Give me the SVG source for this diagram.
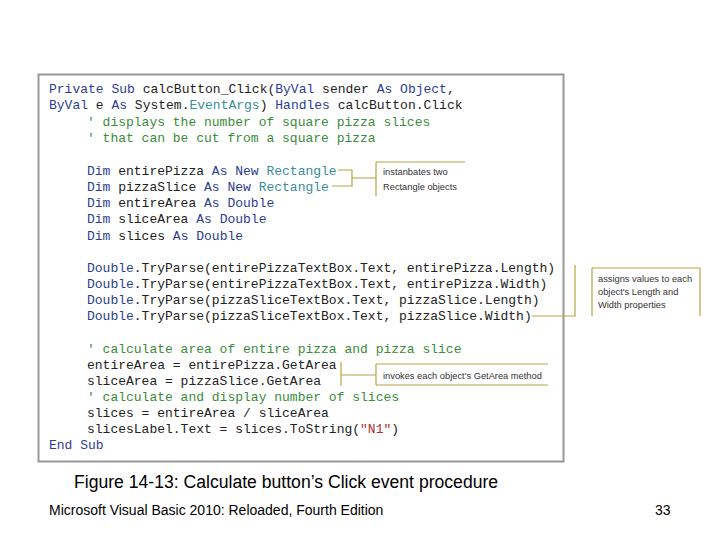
<svg xmlns="http://www.w3.org/2000/svg" width="720" height="540" viewBox="0 0 720 540">
<style>
.c{font-family:"Liberation Mono","DejaVu Sans Mono",monospace;font-size:13px;fill:#222}
.k{fill:#2b3d8f}.t{fill:#3b8c9c}.g{fill:#3a8c3a}.r{fill:#b03030}
.a{font-family:"Liberation Sans",Arial,sans-serif;font-size:9.3px;fill:#333}
.l{stroke:#b5a642;stroke-width:1.2;fill:none}
.f{font-family:"Liberation Sans",Arial,sans-serif;fill:#000}
</style>
<rect width="720" height="540" fill="#fff"/>
<g id="code">
<rect x="38.5" y="74.5" width="525" height="387" fill="#fff" stroke="#999" stroke-width="2"/>
<text class="c" x="49" y="93"><tspan class="k">Private Sub</tspan> calcButton_Click(<tspan class="k">ByVal</tspan> sender <tspan class="k">As Object</tspan>,</text>
<text class="c" x="49" y="109"><tspan class="k">ByVal</tspan> e <tspan class="k">As</tspan> System.<tspan class="t">EventArgs</tspan>) <tspan class="k">Handles</tspan> calcButton.Click</text>
<text class="c g" x="87" y="126">' displays the number of square pizza slices</text>
<text class="c g" x="87" y="142">' that can be cut from a square pizza</text>
<text class="c" x="87" y="175"><tspan class="k">Dim</tspan> entirePizza <tspan class="k">As New</tspan> <tspan class="t">Rectangle</tspan></text>
<text class="c" x="87" y="191"><tspan class="k">Dim</tspan> pizzaSlice <tspan class="k">As New</tspan> <tspan class="t">Rectangle</tspan></text>
<text class="c" x="87" y="207"><tspan class="k">Dim</tspan> entireArea <tspan class="k">As Double</tspan></text>
<text class="c" x="87" y="223"><tspan class="k">Dim</tspan> sliceArea <tspan class="k">As Double</tspan></text>
<text class="c" x="87" y="240"><tspan class="k">Dim</tspan> slices <tspan class="k">As Double</tspan></text>
<text class="c" x="87" y="272"><tspan class="k">Double</tspan>.TryParse(entirePizzaTextBox.Text, entirePizza.Length)</text>
<text class="c" x="87" y="288"><tspan class="k">Double</tspan>.TryParse(entirePizzaTextBox.Text, entirePizza.Width)</text>
<text class="c" x="87" y="304"><tspan class="k">Double</tspan>.TryParse(pizzaSliceTextBox.Text, pizzaSlice.Length)</text>
<text class="c" x="87" y="320"><tspan class="k">Double</tspan>.TryParse(pizzaSliceTextBox.Text, pizzaSlice.Width)</text>
<text class="c g" x="87" y="353">' calculate area of entire pizza and pizza slice</text>
<text class="c" x="87" y="369">entireArea = entirePizza.GetArea</text>
<text class="c" x="87" y="385">sliceArea = pizzaSlice.GetArea</text>
<text class="c g" x="87" y="401">' calculate and display number of slices</text>
<text class="c" x="87" y="417">slices = entireArea / sliceArea</text>
<text class="c" x="87" y="433">slicesLabel.Text = slices.ToString(<tspan class="r">"N1"</tspan>)</text>
<text class="c k" x="49" y="449">End Sub</text>
</g>
<g id="connectors">
<path class="l" d="M338 170H352V186H332M352 178H376M376 162V196M376 162H465"/>
<path class="l" d="M532 316H575V265"/>
<path class="l" d="M592 268H700V316M592 268V316"/>
<path class="l" d="M341 362V386M341 375H376M376 364V385M376 364H548M376 385H548"/>
</g>
<g id="notes">
<text class="a" x="383" y="175">instanbates two</text>
<text class="a" x="383" y="190">Rectangle objects</text>
<text class="a" x="598" y="282">assigns values to each</text>
<text class="a" x="598" y="295">object's Length and</text>
<text class="a" x="598" y="308">Width properties</text>
<text class="a" x="383" y="379">invokes each object's GetArea method</text>
</g>
<text class="f" x="74" y="488" font-size="17.6">Figure 14-13: Calculate button’s Click event procedure</text>
<text class="f" x="49" y="515" font-size="14">Microsoft Visual Basic 2010: Reloaded, Fourth Edition</text>
<text class="f" x="655" y="515" font-size="14">33</text>
</svg>
